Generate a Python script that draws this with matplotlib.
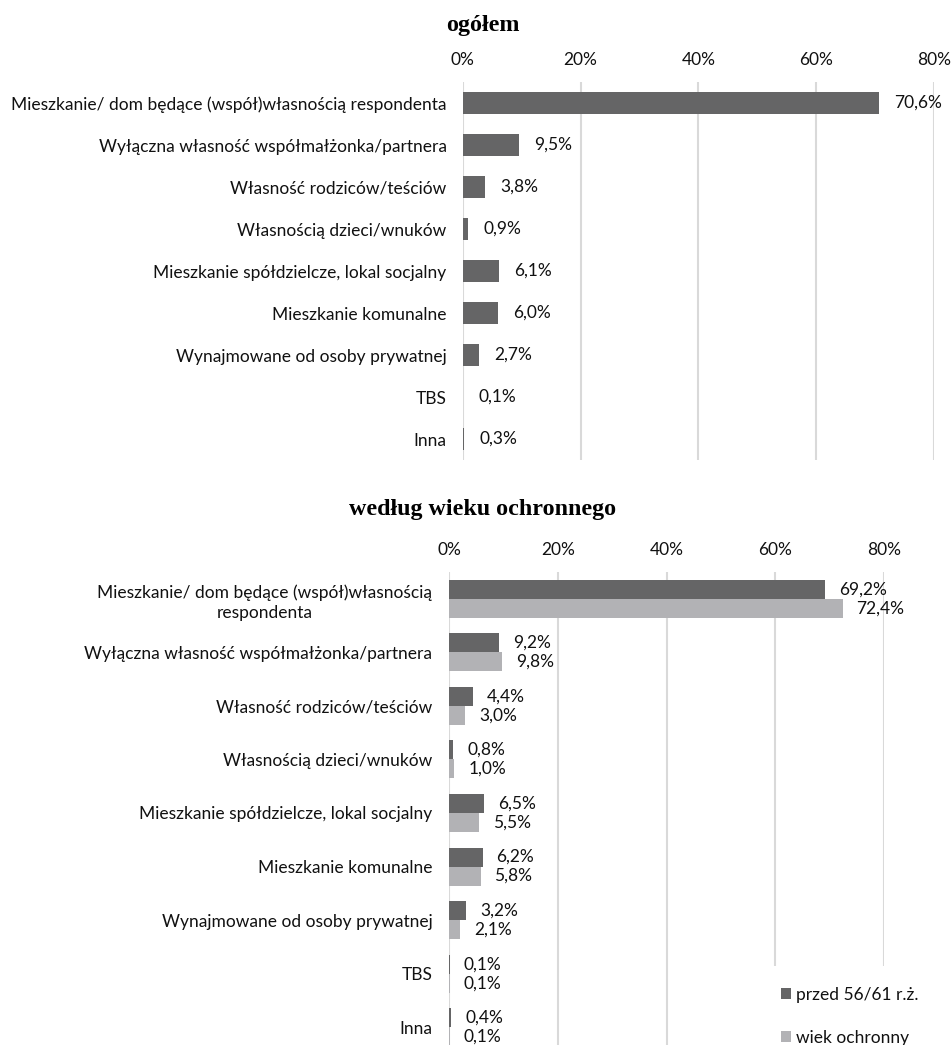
import matplotlib
matplotlib.use("Agg")
import matplotlib.pyplot as plt
from matplotlib.patches import Rectangle

# --- data ---------------------------------------------------------------
categories = [
    "Mieszkanie/ dom będące (współ)własnością respondenta",
    "Wyłączna własność współmałżonka/partnera",
    "Własność rodziców/teściów",
    "Własnością dzieci/wnuków",
    "Mieszkanie spółdzielcze, lokal socjalny",
    "Mieszkanie komunalne",
    "Wynajmowane od osoby prywatnej",
    "TBS",
    "Inna",
]
categories_wrapped = [
    "Mieszkanie/ dom będące (współ)własnością\nrespondenta",
] + categories[1:]

overall = [70.6, 9.5, 3.8, 0.9, 6.1, 6.0, 2.7, 0.1, 0.3]
before_age = [69.2, 9.2, 4.4, 0.8, 6.5, 6.2, 3.2, 0.1, 0.4]
protected_age = [72.4, 9.8, 3.0, 1.0, 5.5, 5.8, 2.1, 0.1, 0.1]

series_names = ["przed 56/61 r.ż.", "wiek ochronny"]
xticks = [0, 20, 40, 60, 80]
xticklabels = ["0%", "20%", "40%", "60%", "80%"]

titles = ["ogółem", "według wieku ochronnego"]

# --- style --------------------------------------------------------------
DARK = "#656566"
LIGHT = "#b2b2b5"
GRID = "#d9d9d9"
TEXT = "#111111"
FONT = ["Lato", "DejaVu Sans"]
FS = 12.5
plt.rcParams["font.family"] = FONT

W, H = 952, 1045
fig = plt.figure(figsize=(W / 100, H / 100), dpi=100)


def pct(v):
    return f"{v:.1f}".replace(".", ",") + "%"


def style_axes(ax, labels, ypad):
    ax.set_xlim(0, 80)
    ax.set_ylim(len(labels) - 0.5, -0.5)
    ax.xaxis.tick_top()
    ax.set_xticks(xticks)
    ax.set_xticklabels(xticklabels)
    ax.set_yticks(range(len(labels)))
    ax.set_yticklabels(labels, multialignment="center", linespacing=1.35)
    ax.tick_params(axis="x", length=0, pad=10, labelsize=FS, labelcolor=TEXT)
    ax.tick_params(axis="y", length=0, pad=ypad, labelsize=FS, labelcolor=TEXT)
    for s in ax.spines.values():
        s.set_visible(False)
    ax.grid(axis="x", color=GRID, linewidth=1.5)
    ax.set_axisbelow(True)


# --- top panel: overall ---------------------------------------------------
ax1 = fig.add_axes([462.7 / W, 1 - 460 / H, (934 - 462.7) / W, 378 / H])
bars = ax1.barh(range(len(categories)), overall, height=0.52,
                color=DARK, linewidth=0)
ax1.bar_label(bars, labels=[pct(v) for v in overall], padding=11,
              fontsize=FS, color=TEXT)
style_axes(ax1, categories, 11.5)

fig.text(483 / W, 1 - 26 / H, titles[0], ha="center", va="center",
         family="Liberation Serif", fontweight="bold", fontsize=17.3,
         color="black")

# --- bottom panel: by age group -------------------------------------------
ax2 = fig.add_axes([449 / W, 1 - 1054 / H, 435 / W, 482 / H])
h = 0.355
y = list(range(len(categories)))
b1 = ax2.barh([i - h / 2 for i in y], before_age, height=h,
              color=DARK, linewidth=0, label=series_names[0])
b2 = ax2.barh([i + h / 2 for i in y], protected_age, height=h,
              color=LIGHT, linewidth=0, label=series_names[1])
ax2.bar_label(b1, labels=[pct(v) for v in before_age], padding=10,
              fontsize=FS, color=TEXT)
ax2.bar_label(b2, labels=[pct(v) for v in protected_age], padding=10,
              fontsize=FS, color=TEXT)
style_axes(ax2, categories_wrapped, 12)

fig.text(483 / W, 1 - 510 / H, titles[1], ha="center", va="center",
         family="Liberation Serif", fontweight="bold", fontsize=17.3,
         color="black")

# legend area sits on a white block over the gridlines
fig.patches.append(Rectangle((765 / W, 0), (W - 765) / W, (H - 966) / H,
                             transform=fig.transFigure, facecolor="white",
                             edgecolor="none", zorder=1))
fig.legend(handles=[b1, b2], labels=series_names, loc="upper left",
           bbox_to_anchor=(772 / W, 1 - 978 / H), frameon=False,
           fontsize=FS, handlelength=0.6, handleheight=0.6,
           handletextpad=0.3, labelspacing=1.55, borderpad=0,
           labelcolor=TEXT)

fig.savefig("out.png", dpi=100, facecolor="white")
